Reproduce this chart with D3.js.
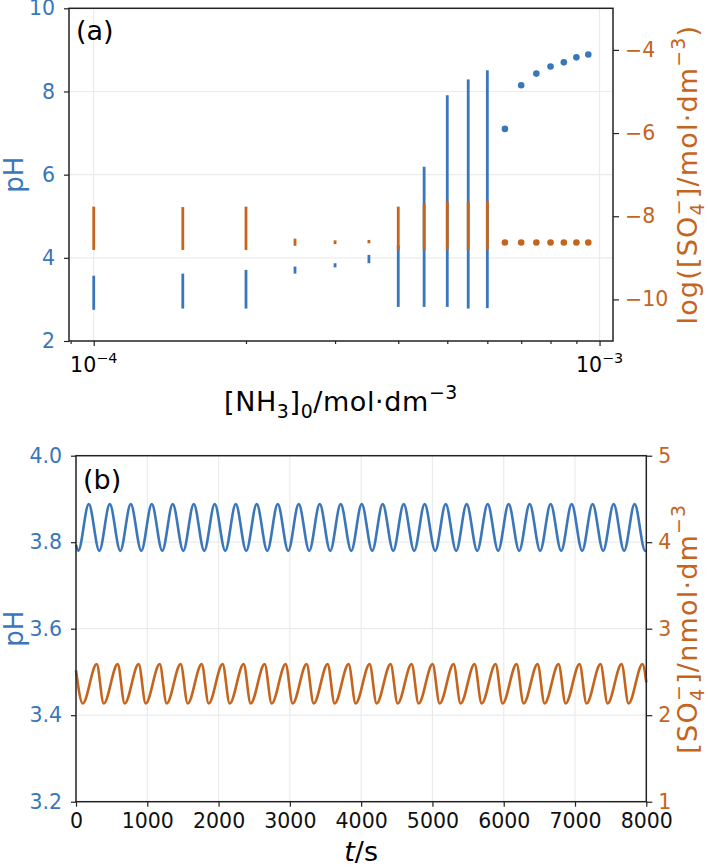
<!DOCTYPE html>
<html>
<head>
<meta charset="utf-8">
<script src="https://cdn.jsdelivr.net/npm/d3@7"></script>
<style>
  body { margin: 0; background: #fff; }
  svg { font-family: "DejaVu Sans", sans-serif; }
  .grid line { stroke: #ebebeb; stroke-width: 1.2; }
  .axis path { display: none; }
  .axis line { stroke: #222; stroke-width: 1.2; }
  .axis text { font-size: 20.5px; font-family: "DejaVu Sans", sans-serif; }
</style>
</head>
<body>
<div id="chart"></div>
<script>
// panel (a): [NH3]0 scan
var nh3 = [1e-4, 1.5e-4, 2e-4, 2.5e-4, 3e-4, 3.5e-4, 4e-4, 4.5e-4, 5e-4,
  5.5e-4, 6e-4, 6.5e-4, 7e-4, 7.5e-4, 8e-4, 8.5e-4, 9e-4, 9.5e-4];
var phLow  = [2.75, 2.78, 2.78, 3.62, 3.77, 3.87, 2.82, 2.82, 2.82, 2.78, 2.79,
  7.10, 8.15, 8.43, 8.60, 8.70, 8.82, 8.89];
var phHigh = [3.57, 3.62, 3.71, 3.79, 3.87, 4.07, 4.30, 6.19, 7.91, 8.29, 8.51,
  7.10, 8.15, 8.43, 8.60, 8.70, 8.82, 8.89];
var so4Low  = [-8.81, -8.81, -8.81, -8.71, -8.67, -8.65, -8.81, -8.81, -8.81, -8.81, -8.81,
  -8.63, -8.63, -8.63, -8.63, -8.63, -8.63, -8.63];
var so4High = [-7.77, -7.78, -7.77, -8.54, -8.58, -8.57, -7.77, -7.70, -7.65, -7.65, -7.63,
  -8.63, -8.63, -8.63, -8.63, -8.63, -8.63, -8.63];
var phTicksA = [2, 4, 6, 8, 10];
var so4TicksA = [-10, -8, -6, -4];
var nh3Major = [1e-4, 1e-3];
var nh3Minor = [9e-5, 2e-4, 3e-4, 4e-4, 5e-4, 6e-4, 7e-4, 8e-4, 9e-4];

// panel (b): time series, extrema
var phPeakT = [179, 474, 768, 1063, 1357, 1652, 1946, 2241, 2535, 2830, 3124, 3419, 3713, 4008,
  4302, 4597, 4891, 5186, 5480, 5775, 6069, 6364, 6658, 6953, 7247, 7542, 7836];
var phTroughT = [32, 327, 621, 916, 1210, 1505, 1799, 2094, 2388, 2683, 2977, 3272, 3566, 3861,
  4155, 4450, 4744, 5039, 5333, 5628, 5922, 6217, 6511, 6806, 7100, 7395, 7689, 7984];
var phPeak = 3.888, phTrough = 3.780;
var phEnds = [[0, 3.794], [8000, 3.782]];
var so4PeakT = [290, 585, 879, 1174, 1468, 1763, 2057, 2352, 2646, 2941, 3235, 3530, 3824, 4119,
  4413, 4708, 5002, 5297, 5591, 5886, 6180, 6475, 6769, 7064, 7358, 7653, 7947];
var so4TroughT = [94, 389, 683, 978, 1272, 1567, 1861, 2156, 2450, 2745, 3039, 3334, 3628, 3923,
  4217, 4512, 4806, 5101, 5395, 5690, 5984, 6279, 6573, 6868, 7162, 7457, 7751];
var so4Peak = 2.59, so4Trough = 2.135;
var so4Ends = [[0, 2.52], [8000, 2.38]];
var tTicks = [0, 1000, 2000, 3000, 4000, 5000, 6000, 7000, 8000];
var phTicksB = [3.2, 3.4, 3.6, 3.8, 4.0];
var so4TicksB = [1, 2, 3, 4, 5];

var blue = "#3a76ba";
var orange = "#c5641c";
var labelSize = 27;

var svg = d3.select("#chart")
  .append("svg")
  .attr("width", 708)
  .attr("height", 868);

// text with sub/superscripts
function rich(text, parts, size) {
  var cur = 0;
  parts.forEach(function(p) {
    var off = p.s === "sub" ? 0.25 * size : p.s === "sup" ? -0.45 * size : 0;
    var ts = text.append("tspan").attr("dy", off - cur).text(p.t);
    cur = off;
    if (p.s) ts.attr("font-size", size * 0.7);
    if (p.dx) ts.attr("dx", p.dx);
    if (p.i) ts.attr("font-style", "italic");
  });
}

// ---------- panel (a) ----------
var a = {left: 69, right: 613, top: 8.3, bottom: 341};

var lo = Math.log10(d3.min(nh3)), hi = Math.log10(d3.max(nh3));
var pad = (hi - lo) * 0.05;
var xA = d3.scaleLog()
  .domain([Math.pow(10, lo - pad), Math.pow(10, hi + pad)])
  .range([a.left, a.right]);
var yA = d3.scaleLinear().domain([2, 10]).range([a.bottom, a.top]);
var yA2 = d3.scaleLinear().domain([-11, -3]).range([a.bottom, a.top]);

var gridA = svg.append("g").attr("class", "grid");
gridA.selectAll(".v").data(nh3Major).enter().append("line")
  .attr("x1", xA).attr("x2", xA)
  .attr("y1", a.top).attr("y2", a.bottom);
gridA.selectAll(".h").data([4, 6, 8]).enter().append("line")
  .attr("x1", a.left).attr("x2", a.right)
  .attr("y1", yA).attr("y2", yA);

var idx = d3.range(nh3.length);

// pH ranges (blue), then sulfate ranges (orange) on top
function rangeMarks(lowArr, highArr, y, color) {
  var g = svg.append("g");
  g.selectAll("line")
    .data(idx.filter(function(i){ return lowArr[i] !== highArr[i]; }))
    .enter().append("line")
    .attr("x1", function(i){ return xA(nh3[i]); })
    .attr("x2", function(i){ return xA(nh3[i]); })
    .attr("y1", function(i){ return y(lowArr[i]); })
    .attr("y2", function(i){ return y(highArr[i]); })
    .attr("stroke", color)
    .attr("stroke-width", 2.8);
  g.selectAll("circle")
    .data(idx.filter(function(i){ return lowArr[i] === highArr[i]; }))
    .enter().append("circle")
    .attr("cx", function(i){ return xA(nh3[i]); })
    .attr("cy", function(i){ return y(lowArr[i]); })
    .attr("r", 3.3)
    .attr("fill", color);
}
rangeMarks(phLow, phHigh, yA, blue);
rangeMarks(so4Low, so4High, yA2, orange);

// axes
svg.append("g")
  .attr("class", "axis")
  .attr("transform", "translate(" + a.left + ",0)")
  .call(d3.axisLeft(yA).tickValues(phTicksA).tickSize(5).tickPadding(9))
  .selectAll("text").attr("fill", blue);

svg.append("g")
  .attr("class", "axis")
  .attr("transform", "translate(" + a.right + ",0)")
  .call(d3.axisRight(yA2).tickValues(so4TicksA).tickSize(6).tickPadding(6)
    .tickFormat(function(d){ return String(d).replace("-", "\u2212"); }))
  .selectAll("text").attr("fill", orange);

svg.append("g")
  .attr("class", "axis")
  .attr("transform", "translate(0," + a.bottom + ")")
  .call(d3.axisBottom(xA).tickValues(nh3Major).tickSize(5).tickFormat(""));
svg.append("g")
  .attr("class", "axis")
  .attr("transform", "translate(0," + a.bottom + ")")
  .call(d3.axisBottom(xA).tickValues(nh3Minor).tickSize(3).tickFormat(""));

svg.selectAll(".xlabA")
  .data(nh3Major)
  .enter().append("text")
  .attr("x", xA)
  .attr("y", a.bottom + 31)
  .attr("text-anchor", "middle")
  .attr("font-size", 20.5)
  .each(function(d){
    rich(d3.select(this), [{t: "10"}, {t: "\u2212" + Math.round(-Math.log10(d)), s: "sup"}], 20.5);
  });

svg.append("rect")
  .attr("x", a.left).attr("y", a.top)
  .attr("width", a.right - a.left).attr("height", a.bottom - a.top)
  .attr("fill", "none").attr("stroke", "#222").attr("stroke-width", 1.5);

svg.append("text")
  .attr("x", 76).attr("y", 40)
  .attr("font-size", 27)
  .text("(a)");

var xTitleA = svg.append("text")
  .attr("x", (a.left + a.right) / 2).attr("y", 411)
  .attr("text-anchor", "middle")
  .attr("letter-spacing", 0.6)
  .attr("font-size", labelSize);
rich(xTitleA, [{t: "[NH"}, {t: "3", s: "sub"}, {t: "]"}, {t: "0", s: "sub"},
  {t: "/mol\u00b7dm"}, {t: "\u22123", s: "sup"}], labelSize);

svg.append("text")
  .attr("transform", "translate(23," + (a.top + a.bottom) / 2 + ") rotate(-90)")
  .attr("text-anchor", "middle")
  .attr("font-size", 26)
  .attr("fill", blue)
  .text("pH");

var yTitleA2 = svg.append("text")
  .attr("transform", "translate(697," + (a.top + a.bottom) / 2 + ") rotate(-90)")
  .attr("text-anchor", "middle")
  .attr("letter-spacing", 1.2)
  .attr("font-size", labelSize)
  .attr("fill", orange);
rich(yTitleA2, [{t: "log([SO"}, {t: "4", s: "sub"},
  {t: "\u2212", s: "sup", dx: -0.636 * 0.7 * labelSize - 1},
  {t: "]/mol\u00b7dm"}, {t: "\u22123", s: "sup"}, {t: ")"}], labelSize);

// ---------- panel (b) ----------
var b = {left: 76, right: 646.3, top: 455.7, bottom: 801.7};

var xB = d3.scaleLinear().domain([0, 8000]).range([b.left, b.right]);
var yB = d3.scaleLinear().domain([3.2, 4.0]).range([b.bottom, b.top]);
var yB2 = d3.scaleLinear().domain([1, 5]).range([b.bottom, b.top]);

var gridB = svg.append("g").attr("class", "grid");
gridB.selectAll(".v").data(tTicks.slice(1, -1)).enter().append("line")
  .attr("x1", xB).attr("x2", xB)
  .attr("y1", b.top).attr("y2", b.bottom);
gridB.selectAll(".h").data(phTicksB.slice(1, -1)).enter().append("line")
  .attr("x1", b.left).attr("x2", b.right)
  .attr("y1", yB).attr("y2", yB);

function series(peakT, troughT, peak, trough, ends) {
  var pts = peakT.map(function(t){ return [t, peak]; })
    .concat(troughT.map(function(t){ return [t, trough]; }))
    .concat(ends);
  return pts.sort(function(p, q){ return p[0] - q[0]; });
}

var phSeries = series(phPeakT, phTroughT, phPeak, phTrough, phEnds);
var so4Series = series(so4PeakT, so4TroughT, so4Peak, so4Trough, so4Ends);

svg.append("path")
  .datum(phSeries)
  .attr("fill", "none")
  .attr("stroke", blue)
  .attr("stroke-width", 2.6)
  .attr("d", d3.line()
    .x(function(d){ return xB(d[0]); })
    .y(function(d){ return yB(d[1]); })
    .curve(d3.curveMonotoneX));

svg.append("path")
  .datum(so4Series)
  .attr("fill", "none")
  .attr("stroke", orange)
  .attr("stroke-width", 2.6)
  .attr("d", d3.line()
    .x(function(d){ return xB(d[0]); })
    .y(function(d){ return yB2(d[1]); })
    .curve(d3.curveMonotoneX));

svg.append("g")
  .attr("class", "axis")
  .attr("transform", "translate(" + b.left + ",0)")
  .call(d3.axisLeft(yB).tickValues(phTicksB).tickSize(5).tickPadding(9).tickFormat(d3.format(".1f")))
  .selectAll("text").attr("fill", blue);

svg.append("g")
  .attr("class", "axis")
  .attr("transform", "translate(" + b.right + ",0)")
  .call(d3.axisRight(yB2).tickValues(so4TicksB).tickSize(6).tickPadding(6).tickFormat(d3.format("d")))
  .selectAll("text").attr("fill", orange);

svg.append("g")
  .attr("class", "axis")
  .attr("transform", "translate(0," + b.bottom + ")")
  .call(d3.axisBottom(xB).tickValues(tTicks).tickSize(5).tickPadding(7).tickFormat(d3.format("d")))
  .selectAll("text").attr("fill", "#111");

svg.append("rect")
  .attr("x", b.left).attr("y", b.top)
  .attr("width", b.right - b.left).attr("height", b.bottom - b.top)
  .attr("fill", "none").attr("stroke", "#222").attr("stroke-width", 1.5);

svg.append("text")
  .attr("x", 83).attr("y", 489)
  .attr("font-size", 27)
  .text("(b)");

var xTitleB = svg.append("text")
  .attr("x", (b.left + b.right) / 2).attr("y", 861)
  .attr("text-anchor", "middle")
  .attr("font-size", labelSize);
rich(xTitleB, [{t: "t", i: true}, {t: "/s"}], labelSize);

svg.append("text")
  .attr("transform", "translate(23," + (b.top + b.bottom) / 2 + ") rotate(-90)")
  .attr("text-anchor", "middle")
  .attr("font-size", 26)
  .attr("fill", blue)
  .text("pH");

var yTitleB2 = svg.append("text")
  .attr("transform", "translate(697," + (b.top + b.bottom) / 2 + ") rotate(-90)")
  .attr("text-anchor", "middle")
  .attr("letter-spacing", 1.2)
  .attr("font-size", labelSize)
  .attr("fill", orange);
rich(yTitleB2, [{t: "[SO"}, {t: "4", s: "sub"},
  {t: "\u2212", s: "sup", dx: -0.636 * 0.7 * labelSize - 1},
  {t: "]/nmol\u00b7dm"}, {t: "\u22123", s: "sup"}], labelSize);
</script>
</body>
</html>
